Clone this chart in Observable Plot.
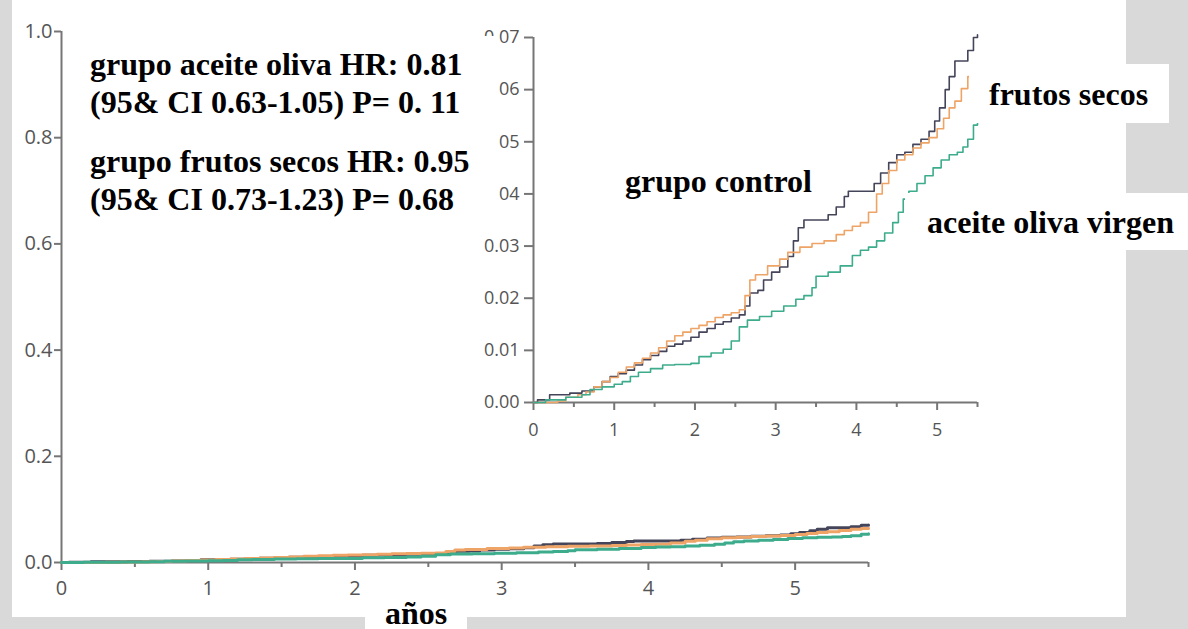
<!DOCTYPE html>
<html><head><meta charset="utf-8">
<script src="https://cdn.jsdelivr.net/npm/d3@7"></script>
<script src="https://cdn.jsdelivr.net/npm/@observablehq/plot@0.6"></script>
<style>
html,body{margin:0;padding:0;}
body{width:1188px;height:629px;background:#d9d9d9;position:relative;overflow:hidden;}
#paper{position:absolute;left:12px;top:0;width:1114px;height:617px;background:#fff;}
.abs{position:absolute;}
.box{position:absolute;background:#fff;}
.lbl{position:absolute;font-family:"Liberation Serif","Times New Roman",serif;font-weight:bold;font-size:32px;line-height:32px;color:#000;white-space:nowrap;}
</style></head><body>
<div id="paper"></div>
<div id="main" class="abs" style="left:12px;top:0"></div>
<div id="inset" class="abs" style="left:440px;top:0"></div>

<div class="box" style="left:75px;top:36px;width:424px;height:186px"></div>
<div class="lbl" style="left:90px;top:48px">grupo aceite oliva HR: 0.81</div>
<div class="lbl" style="left:90px;top:86px">(95&amp; CI 0.63-1.05) P= 0. 11</div>
<div class="lbl" style="left:90px;top:145px">grupo frutos secos HR: 0.95</div>
<div class="lbl" style="left:90px;top:183px">(95&amp; CI 0.73-1.23) P= 0.68</div>

<div class="box" style="left:612px;top:160px;width:214px;height:50px"></div>
<div class="lbl" style="left:625px;top:165px">grupo control</div>
<div class="box" style="left:969px;top:64px;width:200px;height:59px"></div>
<div class="lbl" style="left:989px;top:78px">frutos secos</div>
<div class="box" style="left:905px;top:193px;width:283px;height:57px"></div>
<div class="lbl" style="left:927px;top:206px">aceite oliva virgen</div>
<div class="box" style="left:365px;top:604px;width:102px;height:25px"></div>
<div class="lbl" style="left:385px;top:601px;line-height:24px">años</div>

<script>
// ---- data (cumulative incidence, years) ----
const groups = ["grupo control", "frutos secos", "aceite oliva virgen"];
const groupColors = ["#44445a", "#eea466", "#3dac8c"];

const controlT = [0,0.05,0.2,0.45,0.6,0.75,0.85,0.95,1.05,1.15,1.25,1.35,1.45,1.55,1.65,1.75,1.85,1.95,2.05,2.15,2.25,2.35,2.45,2.55,2.62,2.68,2.78,2.85,2.95,3.05,3.15,3.22,3.28,3.35,3.65,3.75,3.85,3.9,4.22,4.3,4.4,4.5,4.6,4.7,4.8,4.9,4.97,5.03,5.1,5.15,5.22,5.38,5.45,5.5];
const controlR = [0,0.0005,0.0015,0.0018,0.0022,0.003,0.004,0.005,0.0055,0.0062,0.0072,0.0082,0.009,0.0098,0.0108,0.0112,0.0118,0.0125,0.0135,0.0142,0.015,0.0155,0.0162,0.0168,0.0185,0.021,0.0215,0.0235,0.025,0.026,0.028,0.031,0.0335,0.035,0.036,0.0375,0.0395,0.0405,0.042,0.044,0.046,0.0475,0.048,0.0495,0.0505,0.052,0.054,0.0565,0.06,0.0625,0.0655,0.0675,0.07,0.0705];

const nutsT = [0,0.3,0.4,0.55,0.65,0.75,0.85,0.95,1.05,1.15,1.25,1.35,1.45,1.55,1.65,1.75,1.85,1.95,2.05,2.15,2.25,2.35,2.45,2.55,2.62,2.68,2.75,2.9,3.05,3.15,3.3,3.45,3.6,3.75,3.85,3.95,4.05,4.15,4.25,4.32,4.4,4.5,4.6,4.7,4.8,4.9,5.0,5.08,5.15,5.22,5.3,5.38,5.45,5.5];
const nutsR = [0,0.0003,0.001,0.0015,0.002,0.003,0.004,0.0048,0.0058,0.0068,0.0076,0.0085,0.0095,0.0105,0.0118,0.0128,0.0135,0.0142,0.0148,0.0155,0.0163,0.0168,0.0172,0.0178,0.0205,0.0235,0.0245,0.0262,0.0275,0.0288,0.0298,0.0305,0.031,0.0322,0.033,0.0338,0.0345,0.0365,0.04,0.042,0.0445,0.0465,0.0475,0.0488,0.0498,0.0508,0.0525,0.0545,0.0565,0.0578,0.0602,0.0625,0.064,0.0645];

const oliveT = [0,0.15,0.4,0.6,0.7,0.85,1.0,1.1,1.2,1.3,1.45,1.6,1.75,1.95,2.05,2.2,2.35,2.45,2.55,2.65,2.8,2.95,3.1,3.25,3.35,3.45,3.5,3.65,3.8,3.95,4.05,4.15,4.25,4.35,4.45,4.52,4.58,4.65,4.75,4.85,4.95,5.05,5.15,5.25,5.32,5.38,5.45,5.5];
const oliveR = [0,0.0005,0.001,0.0015,0.0025,0.003,0.0035,0.004,0.005,0.0058,0.0065,0.0072,0.0073,0.0075,0.0088,0.0095,0.0102,0.0118,0.0145,0.0158,0.0165,0.0175,0.0185,0.0198,0.0205,0.022,0.0242,0.025,0.0262,0.0282,0.0292,0.0298,0.031,0.0325,0.0345,0.0365,0.039,0.0405,0.042,0.0435,0.045,0.0465,0.0475,0.048,0.049,0.0505,0.0532,0.054];

const xDomain = [0, 5.5];
const xMajorTicks = [0, 1, 2, 3, 4, 5];
const xMinorTicks = [0.5, 1.5, 2.5, 3.5, 4.5, 5.5];
const mainYDomain = [0, 1];
const mainYTicks = [0, 0.2, 0.4, 0.6, 0.8, 1.0];
const insetYDomain = [0, 0.07];
const insetYTicks = [0, 0.01, 0.02, 0.03, 0.04, 0.05, 0.06, 0.07];

const rows = [];
[[controlT, controlR], [nutsT, nutsR], [oliveT, oliveR]].forEach(([T, R], i) => {
  T.forEach((t, j) => rows.push({g: groups[i], t, r: R[j]}));
});

const axisColor = "#767676";
const labelColor = "#555";

function frame(yDomain, yTicks, yFmt, fontSize, lineWidth, yTick, yPad, xPad) {
  return [
    Plot.ruleX([xDomain[0]], {y1: yDomain[0], y2: yDomain[1], stroke: axisColor, strokeWidth: 2}),
    Plot.ruleY([yDomain[0]], {x1: xDomain[0], x2: xDomain[1], stroke: axisColor, strokeWidth: 2}),
    Plot.axisY(yTicks, {tickSize: yTick, tickPadding: yPad, tickFormat: d3.format(yFmt), stroke: axisColor, strokeWidth: 2, fill: labelColor, label: null, fontSize}),
    Plot.axisX(xMajorTicks, {tickSize: 8, tickPadding: xPad, tickFormat: d3.format("d"), stroke: axisColor, strokeWidth: 2, fill: labelColor, label: null, fontSize}),
    Plot.axisX(xMinorTicks, {tickSize: 5, tickFormat: () => "", stroke: axisColor, strokeWidth: 2, label: null}),
    Plot.line(rows, {x: "t", y: "r", z: "g", stroke: "g", curve: "step-after", strokeWidth: lineWidth})
  ];
}

const main = Plot.plot({
  width: 1114, height: 617,
  marginLeft: 49, marginRight: 258, marginTop: 31, marginBottom: 55,
  style: {background: "transparent", fontFamily: "'Open Sans', sans-serif", color: labelColor},
  x: {domain: xDomain},
  y: {domain: mainYDomain},
  color: {domain: groups, range: groupColors},
  marks: frame(mainYDomain, mainYTicks, ".1f", 20, 3, 7, 2, 10)
});
document.getElementById("main").appendChild(main);

const inset = Plot.plot({
  width: 560, height: 460,
  marginLeft: 93, marginRight: 23, marginTop: 37, marginBottom: 58,
  style: {background: "transparent", fontFamily: "'Open Sans', sans-serif", color: labelColor},
  x: {domain: xDomain},
  y: {domain: insetYDomain},
  color: {domain: groups, range: groupColors},
  marks: frame(insetYDomain, insetYTicks, ".2f", 18, 1.6, 9, 5, 13)
});
document.getElementById("inset").appendChild(inset);
</script>
</body></html>
